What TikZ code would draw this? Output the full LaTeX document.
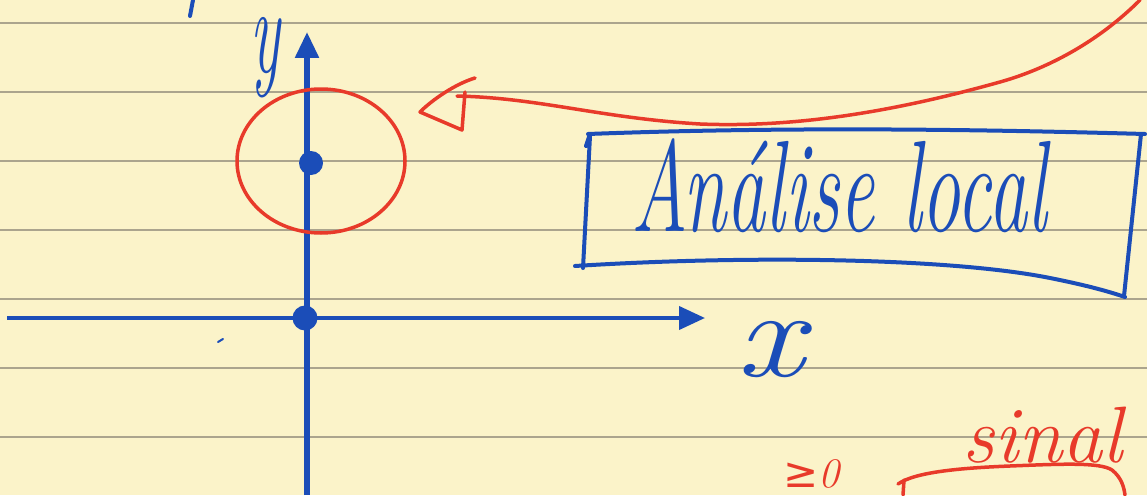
\documentclass[tikz,border=0pt]{standalone}
\usepackage{fontspec}
\newfontfamily\symfont{DejaVu Sans}
\usetikzlibrary{arrows.meta,shapes.geometric}
\definecolor{paper}{HTML}{FBF3C9}
\definecolor{ruling}{HTML}{ABA48D}
\definecolor{inkblue}{HTML}{1B4DB8}
\definecolor{inkred}{HTML}{E83A2A}
\tikzset{
  bluepen/.style={draw=inkblue,line width=4pt,line cap=round,line join=round},
  redpen/.style={draw=inkred,line width=3.5pt,line cap=round,line join=round},
  axisline/.style={draw=inkblue,line width=5.5pt,-{Triangle[length=26pt,width=23pt]}},
  hand/.style={inner sep=0pt,outer sep=0pt,font=\itshape},
  inkdot/.style={circle,fill=inkblue,inner sep=0pt,minimum size=25pt},
  paperline/.style={draw=ruling,line width=1.8pt}
}
\begin{document}
\begin{tikzpicture}[x=1pt,y=-1pt]
\useasboundingbox (0,0) rectangle (1147,495);
\fill[paper] (0,0) rectangle (1147,495);
\foreach \yy in {23,92,161,230,299,368,437}
  \draw[paperline] (0,\yy) -- (1147,\yy);

% axes
\coordinate (ybot) at (307,495);
\coordinate (ytip) at (307,32);
\coordinate (xstart) at (7,318);
\coordinate (xtip) at (705,318);
\draw[axisline] (ybot) -- (ytip);
\draw[axisline,line width=4pt] (xstart) -- (xtip);
\node[inkdot] (origin) at (305,318) {};
\node[inkdot,minimum size=24pt] (point) at (311,163) {};

% axis labels
\node[hand,text=inkblue] (ylabel) at (265,58)
  {\fontsize{125}{125}\selectfont\scalebox{0.5}[1]{y}};
\node[hand,text=inkblue] (xlabel) at (770,350)
  {\fontsize{125}{125}\selectfont\scalebox{1.2}[1]{x}};

% stray pen marks
\draw[bluepen] (193,0) -- (190,16);
\draw[bluepen,line width=2pt] (218,342) -- (223,339);

% red circle around the point
\node[ellipse,draw=inkred,line width=3.5pt,inner sep=0pt,
      minimum width=168pt,minimum height=144pt] (focus) at (321,161) {};

% red arrow
\coordinate (redstart) at (1140,0);
\coordinate (redend) at (457,96);
\coordinate (headtip) at (420,112);
\draw[redpen] (redstart) .. controls (1100,40) and (1050,68) .. (1000,82)
  .. controls (900,110) and (800,128) .. (700,124)
  .. controls (600,118) and (540,98) .. (redend);
\draw[redpen] (475,78) .. controls (455,84) and (432,100) .. (headtip)
  -- (462,130) -- (465,92);

% title box
\node[hand,text=inkblue,anchor=base west] (title) at (631,231)
  {\fontsize{130}{130}\selectfont\scalebox{0.6}[1]{Análise local}};
\draw[bluepen] (583,268) -- (590,136) (586,146) -- (590,134);
\draw[bluepen] (588,134) .. controls (800,126) and (1000,130) .. (1145,134);
\draw[bluepen] (1141,134) -- (1124,296);
\draw[bluepen] (575,266) .. controls (750,255) and (950,258) .. (1050,278)
  .. controls (1090,286) and (1110,292) .. (1125,297);

% bottom right notes
\node[hand,text=inkred,anchor=base west] (sinal) at (962,462)
  {\fontsize{80}{80}\selectfont sinal};
\node[hand,text=inkred,anchor=base west] (sign) at (783,487)
  {\fontsize{42}{42}\selectfont{\symfont ≥}0};
\draw[redpen] (903,495) -- (904,480);
\draw[redpen] (898,484) .. controls (915,472) and (960,468) .. (1010,466)
  .. controls (1060,464) and (1100,462) .. (1112,470)
  .. controls (1122,478) and (1124,488) .. (1125,495);
\end{tikzpicture}
\end{document}
